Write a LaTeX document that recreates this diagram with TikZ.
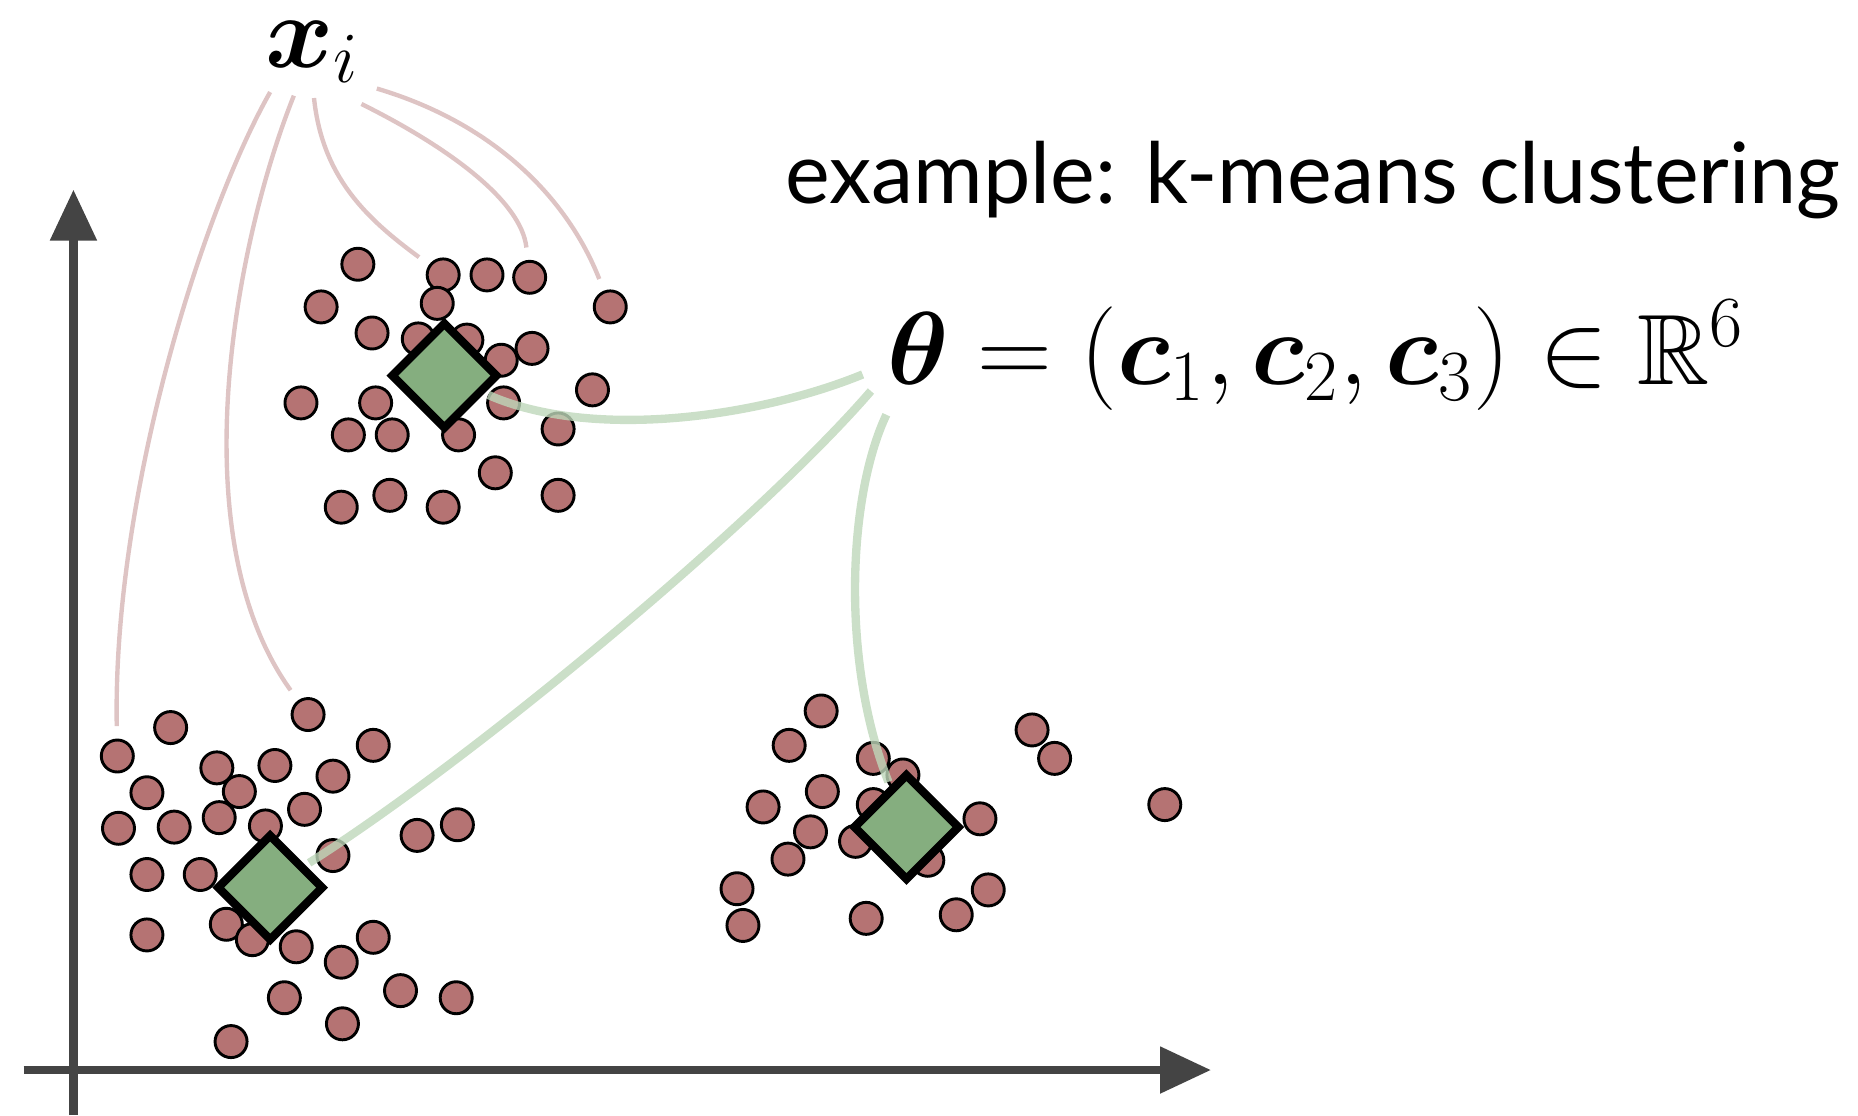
\documentclass[tikz,border=0pt]{standalone}
\usepackage{amsmath,amssymb,bm}
\usepackage[no-math]{fontspec}
\setmainfont{Lato}
\usetikzlibrary{arrows.meta, positioning, calc}
\definecolor{dotred}{RGB}{181,115,115}
\definecolor{cgreen}{RGB}{133,174,127}
\definecolor{tiered}{RGB}{222,196,196}
\definecolor{tiegreen}{RGB}{190,215,186}
\definecolor{axisgray}{RGB}{68,68,68}

\begin{document}
\begin{tikzpicture}[
    x=0.01cm, y=-0.01cm,
    dot/.style={circle, draw=black, line width=0.7pt, fill=dotred, minimum size=0.27cm, inner sep=0pt},
    centroid/.style={rectangle, rotate=45, draw=black, line width=2pt, fill=cgreen, minimum size=0.62cm, inner sep=0pt},
    axis/.style={line width=2pt, draw=axisgray, -{Triangle[length=0.43cm, width=0.38cm]}},
    tie/.style={tiered, line width=1.05pt, shorten >=3pt},
    param/.style={tiegreen, line width=2pt, opacity=0.8, shorten >=1pt}
]
    \useasboundingbox (0,0) rectangle (1568,941);

    % axes
    \coordinate (ybot) at (62,941);
    \coordinate (ytop) at (62,160);
    \coordinate (xleft) at (20,903);
    \coordinate (xright) at (1022,903);
    \draw[axis] (ybot) -- (ytop);
    \draw[axis] (xleft) -- (xright);

    % data points
    \foreach \px/\py [count=\k] in {302/223, 374/232, 411/232, 447/234, 515/259, 271/259, 369/256,
        314/281, 353/286, 394/287, 423/304, 449/294, 500/329, 254/340, 317/340, 425/340, 294/367,
        331/367, 387/367, 471/362, 418/399, 288/428, 329/418, 374/428, 471/418}
        \node[dot] (a\k) at (\px,\py) {};
    \foreach \px/\py [count=\k] in {144/614, 260/603, 315/629, 99/638, 183/648, 232/646, 281/655,
        124/669, 202/668, 257/683, 100/699, 147/698, 185/690, 224/697, 352/705, 386/696, 124/738,
        169/738, 281/722, 124/789, 191/780, 213/793, 250/799, 315/791, 288/812, 240/842, 338/836,
        385/842, 289/864, 195/879}
        \node[dot] (b\k) at (\px,\py) {};
    \foreach \px/\py [count=\k] in {693/600, 666/629, 737/640, 762/654, 871/616, 890/640, 694/668,
        644/681, 737/679, 827/691, 983/679, 684/702, 722/710, 665/725, 783/726, 622/750, 834/751,
        627/781, 731/775, 807/772}
        \node[dot] (c\k) at (\px,\py) {};

    % cluster centres
    \node[centroid] (m1) at (375,317) {};
    \node[centroid] (m2) at (228,749) {};
    \node[centroid] (m3) at (765,698) {};

    % labels
    \node[inner sep=0pt] (xi) at (264,44) {\fontsize{23.5}{27}\selectfont$\bm{x}_i$};
    \node[inner sep=0pt, anchor=base west] (title) at (662,172)
        {\fontsize{20.3}{24}\selectfont example: k-means clustering};
    \node[inner sep=0pt, anchor=west] (theta) at (748,300)
        {\fontsize{24}{28}\selectfont$\bm{\theta} = (\bm{c}_1, \bm{c}_2, \bm{c}_3) \in \mathbb{R}^6$};

    % points to x_i
    \draw[tie] ($(xi.south)+(-36,7)$) .. controls (170,180) and (95,420) .. (b4);
    \draw[tie] ($(xi.south)+(-16,10)$) .. controls (200,200) and (150,450) .. (b2);
    \draw[tie] ($(xi.south)+(1,12)$) .. controls (272,150) and (310,185) .. (a2);
    \draw[tie] ($(xi.south)+(41,17)$) .. controls (380,125) and (440,170) .. (a4);
    \draw[tie] ($(xi.south)+(54,4)$) .. controls (420,105) and (480,170) .. (a5);

    % centres to theta
    \draw[param] ($(theta.west)+(-20,16)$) .. controls (640,352) and (500,372) .. (m1);
    \draw[param] ($(theta.west)+(-13,30)$) .. controls (640,440) and (400,640) .. (m2);
    \draw[param] ($(theta.west)+(0,50)$) .. controls (715,420) and (710,560) .. (m3);
\end{tikzpicture}
\end{document}
